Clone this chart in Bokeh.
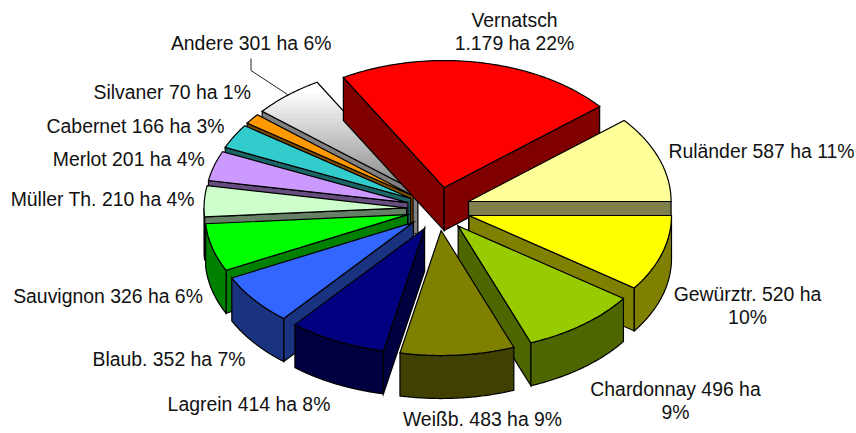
import math
from bokeh.plotting import figure
from bokeh.models import ColumnDataSource
from bokeh.core.properties import value
from bokeh.embed import file_html
from bokeh.resources import INLINE

# ---- data -----
varieties = ["Vernatsch", "Ruländer", "Gewürztr.", "Chardonnay", "Weißb.", "Lagrein", "Blaub.",
             "Sauvignon", "Müller Th.", "Merlot", "Cabernet", "Silvaner", "Andere"]
hectares = [1179, 587, 520, 496, 483, 414, 352, 326, 210, 201, 166, 70, 301]
tick_labels = [["Vernatsch", "1.179 ha 22%"], ["Ruländer 587 ha 11%"], ["Gewürztr. 520 ha", "10%"],
               ["Chardonnay 496 ha", "9%"], ["Weißb. 483 ha 9%"], ["Lagrein 414 ha 8%"],
               ["Blaub. 352 ha 7%"], ["Sauvignon 326 ha 6%"], ["Müller Th. 210 ha 4%"],
               ["Merlot 201 ha 4%"], ["Cabernet 166 ha 3%"], ["Silvaner 70 ha 1%"], ["Andere 301 ha 6%"]]
top_colors = ["#ff0000", "#ffff99", "#ffff00", "#99cc00", "#808000", "#000080", "#3366ff",
              "#00ff00", "#ccffcc", "#cc99ff", "#33cccc", "#ff9900", None]
side_colors = ["#800000", "#80804d", "#808000", "#4d6600", "#404000", "#000040", "#1a3380",
               "#008000", "#668066", "#664d80", "#1a6666", "#804d00", "#808080"]

# ---- layout -----
label_anchor = [(514, 31), (761, 150.5), (747, 304.5), (675, 399.5), (482, 418), (248.5, 403), (168.5, 358),
                (107.5, 295), (102.3, 198), (128.3, 158.5), (135, 125.5), (171.7, 91), (250.7, 42.5)]
LINE_STEP = 23
FONT_PX = "19.4px"
WIN_W, WIN_H = 856, 433
CX, CY = 438.0, 208.4      # pie centre
RX = 202.5                 # ellipse radius, x
RY0, RY_TILT = 126.0, 1.0  # ellipse radius, y (back slightly larger)
EX, EY = 32.0, 21.7        # explosion
DEPTH = 43.0
FIRST = 90.0 - (hectares[0] + hectares[1]) / sum(hectares) * 360.0
EDGE = 1.2

p = figure(width=WIN_W, height=WIN_H, x_range=(0, WIN_W),
           y_range=(WIN_H, 0), output_backend="svg", toolbar_location=None,
           min_border=0, outline_line_color=None, background_fill_color="white")
p.axis.visible = False
p.grid.visible = False


def rim(ax, ay, a0, a1):
    n = max(2, int(abs(a1 - a0) * 2) + 1)
    pts = []
    for i in range(n + 1):
        t = math.radians(a0 + (a1 - a0) * i / n)
        ry = RY0 + RY_TILT * math.cos(t)
        pts.append((ax + RX * math.sin(t), ay - ry * math.cos(t)))
    return pts


def clip_band(poly, y0, y1):
    def clip(pts, inside, cross_y):
        out = []
        for i, q in enumerate(pts):
            o = pts[i - 1]
            if inside(q) != inside(o):
                t = (cross_y - o[1]) / (q[1] - o[1])
                out.append((o[0] + t * (q[0] - o[0]), cross_y))
            if inside(q):
                out.append(q)
        return out
    res = clip(poly, lambda q: q[1] >= y0, y0)
    return clip(res, lambda q: q[1] <= y1, y1) if res else res


faces = dict(xs=[], ys=[], fill=[], line=[], width=[], alpha=[])


def add(poly, fill, line="black", width=EDGE, alpha=1.0):
    faces["xs"].append([q[0] for q in poly])
    faces["ys"].append([q[1] for q in poly])
    faces["fill"].append(fill)
    faces["line"].append(line)
    faces["width"].append(width)
    faces["alpha"].append(alpha)


total = sum(hectares)
slices = []
a = FIRST
for i, h in enumerate(hectares):
    b = a + h / total * 360.0
    slices.append((i, a, b, (a + b) / 2))
    a = b

left = sorted([s for s in slices if s[3] > 180], key=lambda s: -s[3])
right = sorted([s for s in slices if s[3] <= 180], key=lambda s: s[3])

for i, a0, a1, mid in left + right:
    m = math.radians(mid)
    ax, ay = CX + EX * math.sin(m), CY - EY * math.cos(m)
    arc = rim(ax, ay, a0, a1)
    side = side_colors[i]
    if math.sin(math.radians(a0)) < 0:
        q = arc[0]
        add([(ax, ay), q, (q[0], q[1] + DEPTH), (ax, ay + DEPTH)], side)
    if math.sin(math.radians(a1)) > 0:
        q = arc[-1]
        add([(ax, ay), q, (q[0], q[1] + DEPTH), (ax, ay + DEPTH)], side)
    f0, f1 = max(a0, 90.0), min(a1, 270.0)
    if f1 > f0:
        front = rim(ax, ay, f0, f1)
        add(front + [(q[0], q[1] + DEPTH) for q in reversed(front)], side)
    top = [(ax, ay)] + arc
    if top_colors[i] is None:
        ys = [q[1] for q in top]
        lo, hi = min(ys), max(ys)
        y = lo
        while y < hi:
            band = clip_band(top, y, y + 2.5)
            if len(band) > 2:
                k = min(1.0, max(0.0, (y - lo - 8) / (hi - lo - 8)))
                g = int(round(255 - 127 * k))
                c = "#%02x%02x%02x" % (g, g, g)
                add(band, c, c, 0.5)
            y += 2.0
        add(top, "#ffffff", "black", EDGE, 0.0)
    else:
        add(top, top_colors[i])

src = ColumnDataSource(faces)
p.patches("xs", "ys", source=src, fill_color="fill", fill_alpha="alpha", line_color="line",
          line_width="width", line_join="miter")

# leader line of the "Andere" label
p.line([250.5, 250.5, 287], [58, 70, 94], line_color="#222222", line_width=1)

tx, ty, tt = [], [], []
for lines, (x, y) in zip(tick_labels, label_anchor):
    for j, s in enumerate(lines):
        tx.append(x)
        ty.append(y + (j - (len(lines) - 1) / 2) * LINE_STEP)
        tt.append(s)
p.text(tx, ty, text=tt, text_font=value("Liberation Sans"), text_font_size=FONT_PX,
       text_align="center", text_baseline="middle", text_color="#111111")

open("out.html", "w").write(file_html(p, INLINE))
